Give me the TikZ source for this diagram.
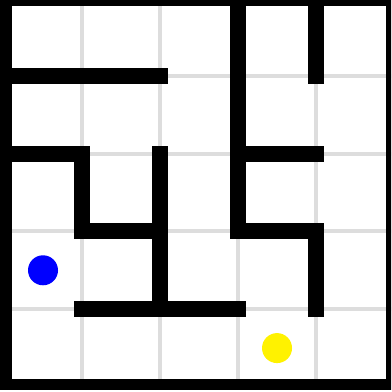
\documentclass[tikz,border=0pt]{standalone}
\usepackage{xcolor}
\usepackage{tikz}
\begin{document}
\begin{tikzpicture}[x=1.56cm,y=1.556cm,
  wall/.style={line width=9.1pt,line cap=rect,line join=miter},
  gridline/.style={line width=2.3pt,gray!27}]
\useasboundingbox (-0.0513,-0.0643) rectangle (4.962,4.974);
\fill[white] (-0.0513,-0.0643) rectangle (4.962,4.974);
\begin{scope}
\clip (-0.0513,-0.026) rectangle (4.962,4.974);
% grid
\foreach \k in {1,...,4} {\draw[gridline] (\k,0) -- (\k,5); \draw[gridline] (0,\k) -- (5,\k);}
% outer wall
\draw[wall] (0,0) rectangle (5,5);
% inner walls
\draw[wall] (0,4) -- (2,4);
\draw[wall] (0,3) -- (1,3) -- (1,2) -- (2,2);
\draw[wall] (2,3) -- (2,1);
\draw[wall] (1,1) -- (3,1);
\draw[wall] (3,5) -- (3,2) -- (4,2) -- (4,1);
\draw[wall] (3,3) -- (4,3);
\draw[wall] (4,5) -- (4,4);
% start and goal
\fill[blue] (0.5,1.5) circle (0.3cm);
\fill[yellow] (3.5,0.5) circle (0.3cm);
\end{scope}
\end{tikzpicture}
\end{document}
